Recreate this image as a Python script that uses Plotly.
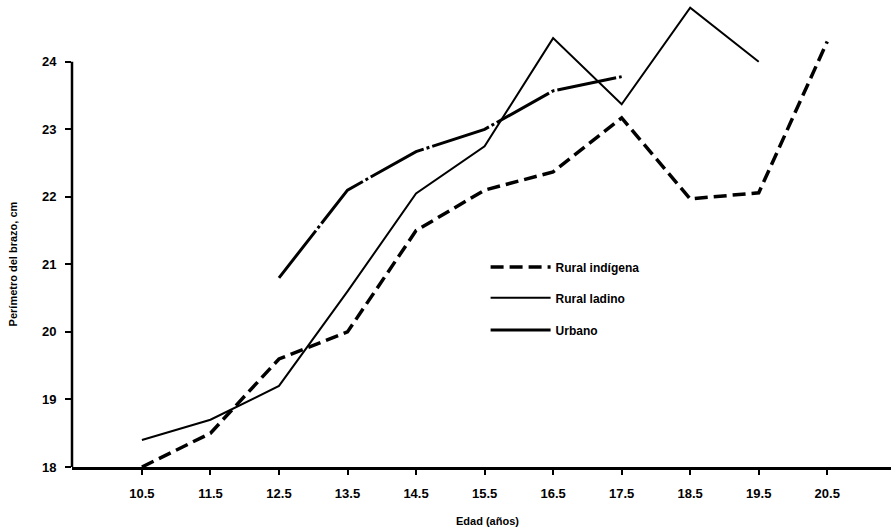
import plotly.graph_objects as go

edad = [10.5, 11.5, 12.5, 13.5, 14.5, 15.5, 16.5, 17.5, 18.5, 19.5, 20.5]
tick_labels = ["10.5", "11.5", "12.5", "13.5", "14.5", "15.5", "16.5", "17.5", "18.5", "19.5", "20.5"]

rural_indigena = [18.0, 18.5, 19.6, 20.0, 21.5, 22.1, 22.37, 23.17, 21.97, 22.06, 24.3]
rural_ladino_x = [10.5, 11.5, 12.5, 13.5, 14.5, 15.5, 16.5, 17.5, 18.5, 19.5]
rural_ladino = [18.4, 18.7, 19.2, 20.6, 22.05, 22.75, 24.35, 23.37, 24.8, 24.0]
urbano_x = [12.5, 13.5, 14.5, 15.5, 16.5, 17.5]
urbano = [20.8, 22.1, 22.67, 23.0, 23.57, 23.78]

y_ticks = [18, 19, 20, 21, 22, 23, 24]

font_family = "Liberation Sans, Arial, sans-serif"

fig = go.Figure()
fig.add_trace(go.Scatter(x=edad, y=rural_indigena, mode="lines", name="Rural indígena",
                         legend="legend",
                         line=dict(color="black", width=3.5, dash="13px,6px")))
fig.add_trace(go.Scatter(x=rural_ladino_x, y=rural_ladino, mode="lines", name="Rural ladino",
                         legend="legend2",
                         line=dict(color="black", width=2)))
fig.add_trace(go.Scatter(x=urbano_x, y=urbano, mode="lines", name="Urbano",
                         legend="legend3",
                         line=dict(color="black", width=3, dash="60px,3px,3px,3px")))

leg_common = dict(x=0.505, xanchor="left", yanchor="middle", bgcolor="rgba(0,0,0,0)",
                  font=dict(size=12, weight="bold"), itemwidth=60)

fig.update_layout(
    width=891, height=531,
    margin=dict(l=72, r=0, t=1, b=64),
    paper_bgcolor="white", plot_bgcolor="white",
    font=dict(family=font_family, color="black", size=12, weight="bold"),
    showlegend=True,
    legend=dict(y=0.429, **leg_common),
    legend2=dict(y=0.363, **leg_common),
    legend3=dict(y=0.294, **leg_common),
    xaxis=dict(range=[9.48, 21.43], tickmode="array", tickvals=edad, ticktext=tick_labels,
               showgrid=False, zeroline=False, showline=True, linecolor="black", linewidth=2.5,
               ticks="outside", ticklen=5, tickwidth=2, tickcolor="black",
               ticklabelstandoff=8,
               tickfont=dict(size=13, weight="bold")),
    yaxis=dict(range=[18, 24.9], tickmode="array", tickvals=y_ticks,
               showgrid=False, zeroline=False, showline=False,
               ticks="outside", ticklen=6, tickwidth=2, tickcolor="black",
               ticklabelstandoff=6,
               tickfont=dict(size=13, weight="bold")),
    shapes=[dict(type="line", xref="paper", yref="y", x0=0, x1=0, y0=18, y1=24,
                 line=dict(color="black", width=2.5))],
    annotations=[
        dict(text="Edad (años)", xref="paper", yref="paper", x=0.507, y=0, yshift=-54,
             showarrow=False, font=dict(size=11, weight="bold"), xanchor="center", yanchor="middle"),
        dict(text="Perímetro del brazo, cm", xref="paper", yref="y", x=0, xshift=-59, y=21,
             textangle=-90, showarrow=False, font=dict(size=11, weight="bold"),
             xanchor="center", yanchor="middle"),
    ],
)

fig.write_html("out.html", config={"displayModeBar": False},
               post_script="document.body.style.margin='0';document.body.style.padding='0';")
